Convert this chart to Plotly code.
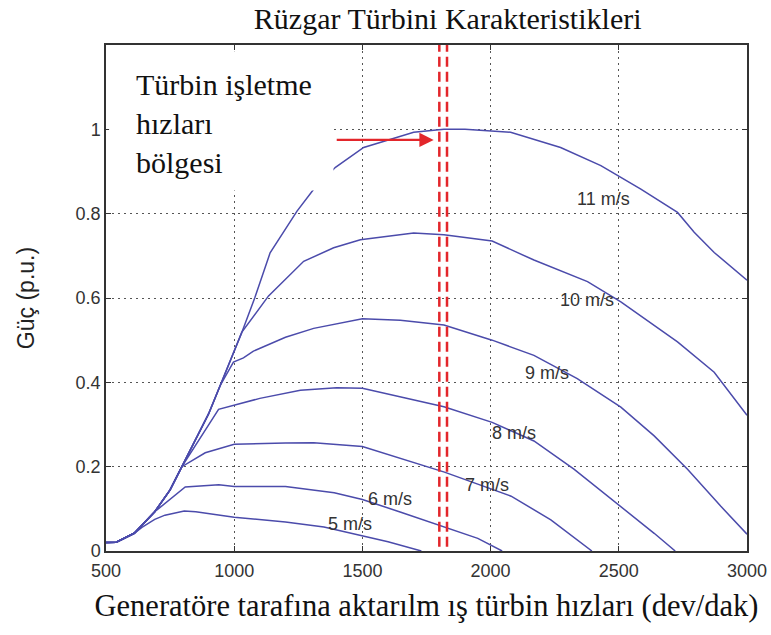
import plotly.graph_objects as go

# ---- data ----
env_x = [500, 540, 610, 690, 750, 796, 850, 900, 945, 990, 1030, 1080, 1140, 1245, 1310]
env_y = [0.020, 0.021, 0.042, 0.093, 0.145, 0.200, 0.262, 0.325, 0.392, 0.458, 0.519, 0.600, 0.707, 0.806, 0.858]

v5_x = [640, 690, 730, 805, 850, 1000, 1200, 1350, 1500, 1600, 1730]
v5_y = [0.056, 0.075, 0.085, 0.095, 0.093, 0.080, 0.069, 0.057, 0.037, 0.022, 0.0]

v6_x = [809, 940, 1000, 1200, 1390, 1500, 1650, 1820, 1950, 2045]
v6_y = [0.152, 0.157, 0.153, 0.153, 0.138, 0.122, 0.092, 0.057, 0.030, 0.0]

v7_x = [887, 1000, 1200, 1310, 1500, 1700, 1820, 2080, 2235, 2395]
v7_y = [0.233, 0.253, 0.256, 0.257, 0.248, 0.209, 0.187, 0.130, 0.074, 0.0]

v8_x = [939, 1000, 1100, 1258, 1400, 1500, 1650, 1818, 2006, 2169, 2325, 2508, 2638, 2720]
v8_y = [0.336, 0.346, 0.362, 0.381, 0.387, 0.386, 0.365, 0.342, 0.305, 0.261, 0.194, 0.106, 0.042, 0.0]

v9_x = [997, 1036, 1075, 1200, 1310, 1500, 1648, 1818, 2006, 2169, 2338, 2508, 2638, 2768, 2898, 3000]
v9_y = [0.448, 0.458, 0.474, 0.507, 0.528, 0.551, 0.547, 0.536, 0.500, 0.464, 0.409, 0.341, 0.273, 0.194, 0.106, 0.040]

v10_x = [1134, 1271, 1388, 1492, 1700, 1818, 2006, 2169, 2378, 2508, 2729, 2872, 3000]
v10_y = [0.605, 0.687, 0.719, 0.738, 0.754, 0.750, 0.735, 0.690, 0.639, 0.591, 0.496, 0.424, 0.322]

v11_x = [1395, 1505, 1700, 1818, 1900, 2006, 2078, 2273, 2430, 2508, 2586, 2729, 2794, 2872, 3000]
v11_y = [0.910, 0.957, 0.993, 1.000, 1.000, 0.996, 0.993, 0.957, 0.914, 0.886, 0.858, 0.803, 0.756, 0.708, 0.642]

# number of envelope points each curve follows before branching
split_idx = {"5 m/s": 3, "6 m/s": 4, "7 m/s": 6, "8 m/s": 6, "9 m/s": 9, "10 m/s": 11, "11 m/s": 15}
tails = {
    "5 m/s": (v5_x, v5_y), "6 m/s": (v6_x, v6_y), "7 m/s": (v7_x, v7_y),
    "8 m/s": (v8_x, v8_y), "9 m/s": (v9_x, v9_y), "10 m/s": (v10_x, v10_y),
    "11 m/s": (v11_x, v11_y),
}

label_names = ["5 m/s", "6 m/s", "7 m/s", "8 m/s", "9 m/s", "10 m/s", "11 m/s"]
label_x = [1453, 1609, 1986, 2091, 2221, 2377, 2442]
label_y = [0.065, 0.124, 0.156, 0.279, 0.422, 0.596, 0.835]

limit_x = [1800, 1830]
arrow_from = (1394, 0.975)
arrow_to = (1778, 0.975)

x_ticks = [500, 1000, 1500, 2000, 2500, 3000]
y_ticks = [0, 0.2, 0.4, 0.6, 0.8, 1]
y_tick_text = ["0", "0.2", "0.4", "0.6", "0.8", "1"]

title_text = "Rüzgar Türbini Karakteristikleri"
x_title = "Generatöre tarafına aktarılm ış türbin hızları (dev/dak)"
y_title = "Güç (p.u.)"
region_text = "Türbin işletme<br>hızları<br>bölgesi"

LINE = "#4b4bab"
RED = "#e3262b"
SERIF = "Liberation Serif, Times New Roman, serif"
SANS = "Liberation Sans, Arial, sans-serif"

fig = go.Figure()
for name in label_names:
    n = split_idx[name]
    tx, ty = tails[name]
    fig.add_trace(go.Scatter(
        x=env_x[:n] + tx, y=env_y[:n] + ty, mode="lines", name=name,
        line=dict(color=LINE, width=1.5), showlegend=False, hoverinfo="skip"))

# white box behind the region text (hides grid and curve there)
shapes = [dict(type="rect", xref="x", yref="y", x0=512, x1=1387, y0=0.855, y1=1.185,
               fillcolor="white", line=dict(width=0), layer="above")]
for lx in limit_x:
    shapes.append(dict(type="line", xref="x", yref="y", x0=lx, x1=lx, y0=0.01, y1=1.2,
                       line=dict(color=RED, width=2.5, dash="10px,5px"), layer="above"))

annotations = []
for t, x, y in zip(label_names, label_x, label_y):
    annotations.append(dict(x=x, y=y, xref="x", yref="y", text=t, showarrow=False,
                            font=dict(family=SANS, size=18, color="#333333")))
annotations.append(dict(x=609, y=1.15, xref="x", yref="y", text=region_text, showarrow=False,
                        xanchor="left", yanchor="top", align="left",
                        font=dict(family=SERIF, size=30, color="#111111")))
annotations.append(dict(x=arrow_to[0], y=arrow_to[1], ax=arrow_from[0], ay=arrow_from[1],
                        xref="x", yref="y", axref="x", ayref="y", text="", showarrow=True,
                        arrowhead=2, arrowsize=1.3, arrowwidth=2.2, arrowcolor=RED))

fig.update_layout(
    width=771, height=635,
    margin=dict(l=106, r=24, t=45, b=84),
    paper_bgcolor="white", plot_bgcolor="white",
    title=dict(text=title_text, x=411 / 771, xref="paper", xanchor="center",
               y=1 - 18 / 635, yref="container", yanchor="middle",
               font=dict(family=SERIF, size=30, color="#111111")),
    shapes=shapes, annotations=annotations,
)

fig.update_xaxes(
    range=[500, 3000], tickvals=x_ticks, ticktext=[str(v) for v in x_ticks],
    showline=True, linecolor="#333333", linewidth=1.5, mirror="allticks",
    ticks="inside", ticklen=5, tickcolor="#333333",
    showgrid=True, gridcolor="#555555", gridwidth=1, griddash="2px,4px",
    zeroline=False, automargin=False, ticklabelstandoff=3,
    tickfont=dict(family=SANS, size=18, color="#333333"),
    title=dict(text=x_title, font=dict(family=SERIF, size=30.5, color="#111111"), standoff=14),
)
fig.update_yaxes(
    range=[0, 1.2], tickvals=y_ticks, ticktext=y_tick_text,
    showline=True, linecolor="#333333", linewidth=1.5, mirror="allticks",
    ticks="inside", ticklen=5, tickcolor="#333333",
    showgrid=True, gridcolor="#555555", gridwidth=1, griddash="2px,4px",
    zeroline=False, automargin=False,
    tickfont=dict(family=SANS, size=18, color="#333333"),
    title=dict(text=y_title, font=dict(family=SANS, size=23, color="#222222"), standoff=35),
)

fig.write_html("out.html", config={"displayModeBar": False},
               post_script="document.body.style.margin='0';")
